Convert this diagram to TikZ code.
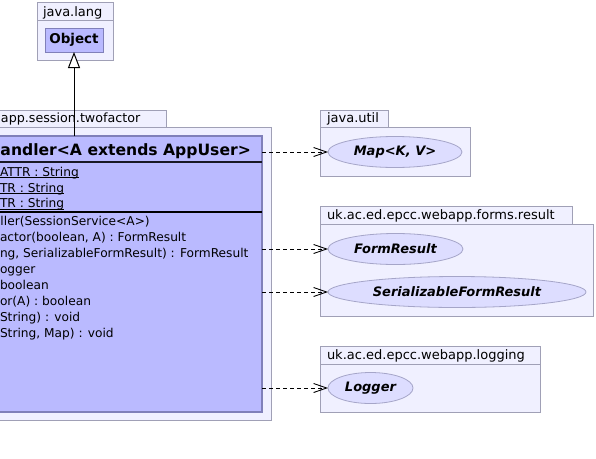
\documentclass[tikz,border=0pt]{standalone}
\usepackage{fontspec}
\setmainfont{DejaVu Sans}
\usetikzlibrary{shapes.geometric,arrows.meta}
\definecolor{pkgfill}{RGB}{240,240,255}
\definecolor{pkgline}{RGB}{160,160,182}
\definecolor{classfill}{RGB}{186,186,255}
\definecolor{classline}{RGB}{128,128,185}
\definecolor{ifacefill}{RGB}{221,221,255}
\definecolor{ifaceline}{RGB}{165,165,200}

\begin{document}
\begin{tikzpicture}[
		x=1pt, y=-1pt,
		every node/.style={inner sep=0pt, outer sep=0pt},
		package/.style={rectangle, draw=pkgline, fill=pkgfill, line width=0.9pt},
		pkglabel/.style={anchor=base west, font=\fontsize{13pt}{15pt}\selectfont},
		classbox/.style={rectangle, draw=classline, fill=classfill, line width=1.3pt},
		member/.style={anchor=base west, font=\fontsize{12.2pt}{14pt}\selectfont},
		iface/.style={ellipse, draw=ifaceline, fill=ifacefill, line width=0.8pt, minimum height=31pt, font=\fontsize{13pt}{15pt}\selectfont\bfseries\itshape},
		uses/.style={-{Straight Barb[length=13pt,width=9pt]}, dash pattern=on 4pt off 3pt, line width=0.9pt},
		extends/.style={-{Triangle[length=16pt,width=12pt,fill=white]}, line width=1pt}
	]
  \useasboundingbox (0,0) rectangle (596,458);
  \clip (0,0) rectangle (596,458);
  % packages
  \node (java_lang_tab) [package, minimum width=76pt, minimum height=18pt] at (75,11.5) {};
  \node (java_lang) [package, minimum width=76pt, minimum height=39.5pt] at (75,40.25) {};
  \node (java_lang_label) [pkglabel] at (43,16) {java.lang};
  \node (twofactor_tab) [package, minimum width=206pt, minimum height=17pt] at (63,118.5) {};
  \node (twofactor) [package, minimum width=311pt, minimum height=293pt] at (115.5,273.5) {};
  \node (twofactor_label) [pkglabel, font=\fontsize{12.7pt}{15pt}\selectfont] at (1,122) {app.session.twofactor};
  \node (java_util_tab) [package, minimum width=68pt, minimum height=17pt] at (354,118.5) {};
  \node (java_util) [package, minimum width=150pt, minimum height=49pt] at (395,151.5) {};
  \node (java_util_label) [pkglabel] at (327,122) {java.util};
  \node (forms_result_tab) [package, minimum width=252pt, minimum height=18pt] at (446,215) {};
  \node (forms_result) [package, minimum width=273pt, minimum height=92pt] at (456.5,270) {};
  \node (forms_result_label) [pkglabel] at (327,219) {uk.ac.ed.epcc.webapp.forms.result};
  \node (logging_tab) [package, minimum width=220pt, minimum height=18pt] at (430,355) {};
  \node (logging) [package, minimum width=220pt, minimum height=48pt] at (430,388) {};
  \node (logging_label) [pkglabel] at (327,359) {uk.ac.ed.epcc.webapp.logging};
  % classes
  \node (object) [classbox, line width=1pt, minimum width=58pt, minimum height=24pt, font=\fontsize{13.5pt}{15pt}\selectfont\bfseries] at (74,40) {Object};
  \node (handler) [classbox, minimum width=302pt, minimum height=276pt] at (111,274) {};
  \node (handler_name) [anchor=base west, font=\fontsize{15.6pt}{18pt}\selectfont\bfseries] at (0.5,155) {andler<A extends AppUser>};
  \draw [classline!20!black, line width=1.3pt] ([yshift=-26pt]handler.north west) -- ([yshift=-26pt]handler.north east);
  \draw [black, line width=2pt] ([yshift=-76pt]handler.north west) -- ([yshift=-76pt]handler.north east);
  \node (attr_a) [member] at (0,176.5) {ATTR : String};
  \node (attr_b) [member] at (0,192.2) {TR : String};
  \node (attr_c) [member] at (0,207.9) {TR : String};
  \draw [line width=0.8pt] ([yshift=-1.2pt]attr_a.base west) -- ([yshift=-1.2pt]attr_a.base east);
  \draw [line width=0.8pt] ([yshift=-1.2pt]attr_b.base west) -- ([yshift=-1.2pt]attr_b.base east);
  \draw [line width=0.8pt] ([yshift=-1.2pt]attr_c.base west) -- ([yshift=-1.2pt]attr_c.base east);
  \node (op_a) [member] at (0.5,225.5) {ller(SessionService<A>)};
  \node (op_b) [member] at (0,241.5) {actor(boolean, A) : FormResult};
  \node (op_c) [member] at (0,257.5) {ng, SerializableFormResult) : FormResult};
  \node (op_d) [member] at (0,273.5) {ogger};
  \node (op_e) [member] at (0,289.5) {boolean};
  \node (op_f) [member] at (0,305.5) {or(A) : boolean};
  \node (op_g) [member] at (0,321.5) {String) : void};
  \node (op_h) [member] at (0,337.5) {String, Map) : void};
  % interfaces
  \node (map_kv) [iface, minimum width=134pt] at (395,152) {Map<K, V>};
  \node (form_result) [iface, minimum width=135pt] at (395.5,249) {FormResult};
  \node (serializable_form_result) [iface, minimum width=258pt] at (457,292) {SerializableFormResult};
  \node (logger) [iface, minimum width=85pt] at (370.5,388) {Logger};
  % relations
  \draw [extends] (handler.north -| object.south) -- (object.south);
  \draw [uses] (handler.east |- map_kv.west) -- (map_kv.west);
  \draw [uses] (handler.east |- form_result.west) -- (form_result.west);
  \draw [uses] (handler.east |- serializable_form_result.west) -- (serializable_form_result.west);
  \draw [uses] (handler.east |- logger.west) -- (logger.west);
\end{tikzpicture}
\end{document}
